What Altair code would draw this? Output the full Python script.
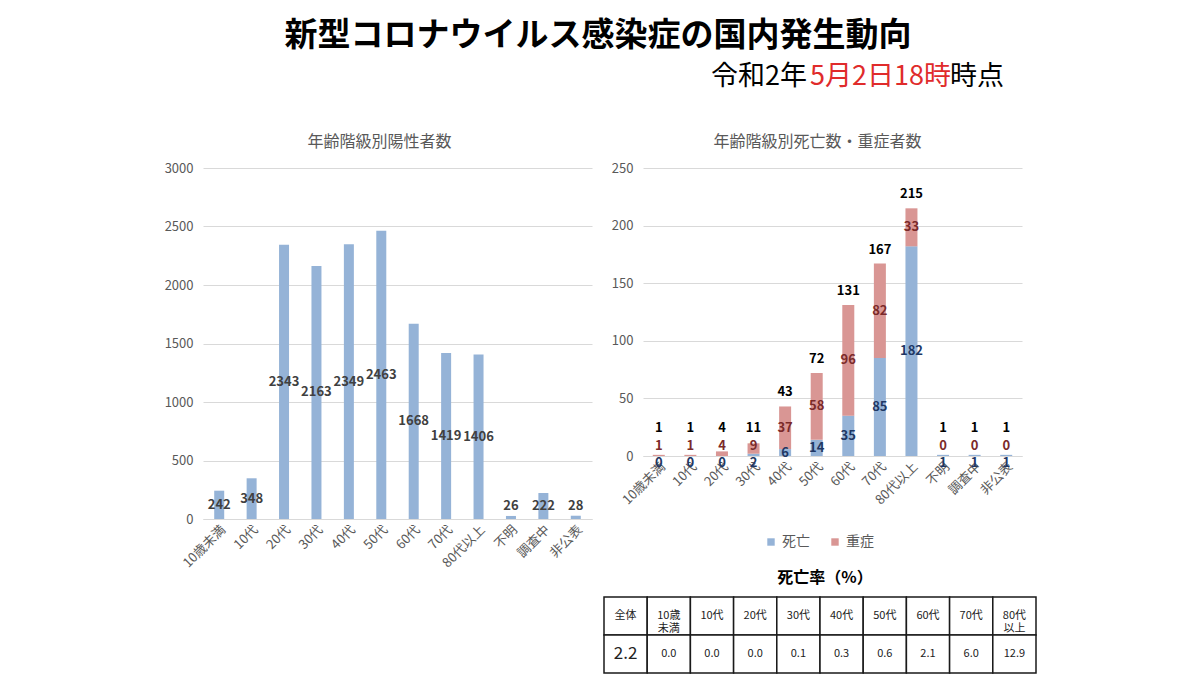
import altair as alt
import pandas as pd

# ---- text ----
main_title = "新型コロナウイルス感染症の国内発生動向"
date_pre = "令和2年"
date_red = "5月2日18時"
date_post = "時点"
left_title = "年齢階級別陽性者数"
right_title = "年齢階級別死亡数・重症者数"
table_title = "死亡率（%）"

# ---- data ----
categories = ["10歳未満", "10代", "20代", "30代", "40代", "50代", "60代",
              "70代", "80代以上", "不明", "調査中", "非公表"]
positives = [242, 348, 2343, 2163, 2349, 2463, 1668, 1419, 1406, 26, 222, 28]
deaths = [0, 0, 0, 2, 6, 14, 35, 85, 182, 1, 1, 1]
severe = [1, 1, 4, 9, 37, 58, 96, 82, 33, 0, 0, 0]
series_names = ["死亡", "重症"]

left_ticks = [0, 500, 1000, 1500, 2000, 2500, 3000]
right_ticks = [0, 50, 100, 150, 200, 250]

rate_headers = ["全体", "10歳\n未満", "10代", "20代", "30代", "40代", "50代",
                "60代", "70代", "80代\n以上"]
rate_values = ["2.2", "0.0", "0.0", "0.0", "0.1", "0.3", "0.6", "2.1", "6.0", "12.9"]

# ---- style ----
FONT = "Noto Sans CJK JP"
BLUE = "#95B3D7"
RED = "#D99694"
GRID = "#D9D9D9"
LABEL = "#595959"

# ---- header ----
def htext(txt, x, y, size, color, align, weight="normal"):
    return alt.Chart(pd.DataFrame({"t": [txt]})).mark_text(
        font=FONT, fontSize=size, fontWeight=weight, color=color,
        align=align, baseline="middle"
    ).encode(x=alt.value(x), y=alt.value(y), text="t:N")

header = alt.layer(
    htext(main_title, 395, 28, 33, "#000000", "center", "bold"),
    htext(date_pre, 508, 69, 27, "#000000", "left"),
    htext(date_red, 607, 69, 27, "#E02B2B", "left"),
    htext(date_post, 801, 69, 27, "#000000", "right"),
).properties(width=820, height=126)

# ---- left chart ----
pos_df = pd.DataFrame({"cat": categories, "v": positives})
xl = alt.X("cat:N", sort=categories, title=None,
           scale=alt.Scale(paddingInner=0, paddingOuter=0),
           axis=alt.Axis(labelAngle=-45, labelFontSize=13, labelColor=LABEL,
                         labelFont=FONT, domainColor=GRID, ticks=False,
                         labelPadding=4))
yl_scale = alt.Scale(domain=[0, 3000])
yl_axis = alt.Axis(values=left_ticks, format="d", grid=True, gridColor=GRID, domain=False,
                   ticks=False, labelFontSize=13, labelColor=LABEL,
                   labelFont=FONT, labelPadding=10, minExtent=45, maxExtent=45)

lbars = alt.Chart(pos_df).mark_bar(size=10, color=BLUE).encode(
    x=xl, y=alt.Y("v:Q", title=None, scale=yl_scale, axis=yl_axis))
llabels = alt.Chart(pos_df).transform_calculate(
    ly="max(datum.v / 2, 111)"
).mark_text(font=FONT, fontSize=13, fontWeight="bold", color="#404040").encode(
    x=xl, y=alt.Y("ly:Q", title=None, scale=yl_scale, axis=yl_axis), text="v:Q")

left = alt.layer(lbars, llabels).properties(
    width=389, height=351,
    title=alt.TitleParams(left_title, fontSize=16, color=LABEL, font=FONT,
                          fontWeight="normal", offset=12, dx=-18))

# ---- right chart ----
long_rows = []
for c, d, s in zip(categories, deaths, severe):
    long_rows.append({"cat": c, "type": series_names[0], "v": d, "ord": 0})
    long_rows.append({"cat": c, "type": series_names[1], "v": s, "ord": 1})
long_df = pd.DataFrame(long_rows)
wide_df = pd.DataFrame({"cat": categories, "d": deaths, "s": severe})

xr = alt.X("cat:N", sort=categories, title=None,
           scale=alt.Scale(paddingInner=0, paddingOuter=0),
           axis=alt.Axis(labelAngle=-45, labelFontSize=13, labelColor=LABEL,
                         labelFont=FONT, domainColor=GRID, ticks=False,
                         labelPadding=4))
yr_scale = alt.Scale(domain=[0, 250])
yr_axis = alt.Axis(values=right_ticks, format="d", grid=True, gridColor=GRID, domain=False,
                   ticks=False, labelFontSize=13, labelColor=LABEL,
                   labelFont=FONT, labelPadding=10, minExtent=45, maxExtent=45)

rbars = alt.Chart(long_df).mark_bar(size=12).encode(
    x=xr,
    y=alt.Y("v:Q", title=None, stack="zero", scale=yr_scale, axis=yr_axis),
    color=alt.Color("type:N", scale=alt.Scale(domain=series_names, range=[BLUE, RED]),
                    legend=alt.Legend(orient="none", legendX=561, legendY=527,
                                      direction="horizontal", title=None,
                                      labelFontSize=14, labelColor=LABEL,
                                      labelFont=FONT, symbolType="square",
                                      symbolSize=55, symbolStrokeWidth=0,
                                      columnPadding=18, padding=0)),
    order=alt.Order("ord:Q"))

wbase = alt.Chart(wide_df).transform_calculate(
    dly="datum.d < 5 ? -6 : datum.d / 2",
    sly="max(datum.d + datum.s / 2, 9)",
    tot="datum.d + datum.s",
    tly="max(datum.d + datum.s, 12)")

dlab = wbase.mark_text(font=FONT, fontSize=13, fontWeight="bold", color="#1F3864").encode(
    x=xr, y=alt.Y("dly:Q", title=None, scale=yr_scale, axis=yr_axis), text="d:Q")
slab = wbase.mark_text(font=FONT, fontSize=13, fontWeight="bold", color="#7B2A2A").encode(
    x=xr, y=alt.Y("sly:Q", title=None, scale=yr_scale, axis=yr_axis), text="s:Q")
tlab = wbase.mark_text(font=FONT, fontSize=13, fontWeight="bold", color="#000000", dy=-14).encode(
    x=xr, y=alt.Y("tly:Q", title=None, scale=yr_scale, axis=yr_axis), text="tot:Q")

right = alt.layer(rbars, dlab, slab, tlab).properties(
    width=379, height=288,
    title=alt.TitleParams(right_title, fontSize=16, color=LABEL, font=FONT,
                          fontWeight="normal", offset=12, dx=-15))

# ---- table ----
SHIFT = -39
trows = []
for i, (h, v) in enumerate(zip(rate_headers, rate_values)):
    trows.append({"col": i, "row": "h", "text": h})
    trows.append({"col": i, "row": "v", "text": v})
tdf = pd.DataFrame(trows)
tx = alt.X("col:O", axis=None, scale=alt.Scale(paddingInner=0, paddingOuter=0))
ty = alt.Y("row:N", axis=None, sort=["h", "v"], scale=alt.Scale(paddingInner=0, paddingOuter=0))

tcells = alt.Chart(tdf).mark_rect(fill="white", stroke="#1A1A1A", strokeWidth=1.5,
                                  xOffset=SHIFT, x2Offset=SHIFT).encode(x=tx, y=ty)
ttext = alt.Chart(tdf).mark_text(font=FONT, lineBreak="\n", color="#222222",
                                 dx=SHIFT).encode(
    x=tx, y=ty, text="text:N",
    size=alt.condition("datum.col == 0 && datum.row == 'v'", alt.value(17), alt.value(11)))

table = alt.layer(tcells, ttext).properties(
    width=432, height=76,
    title=alt.TitleParams(table_title, fontSize=16, color="#000000", font=FONT,
                          fontWeight="bold", offset=10, dx=SHIFT + 5))

chart = alt.vconcat(
    header,
    alt.hconcat(left, alt.vconcat(right, table, spacing=63), spacing=6),
    spacing=0,
).properties(
    padding={"left": 150, "top": 0, "right": 0, "bottom": 0}
).configure(font=FONT).configure_view(stroke=None)

chart.save("out.html", embed_options={"renderer": "svg", "actions": False})
